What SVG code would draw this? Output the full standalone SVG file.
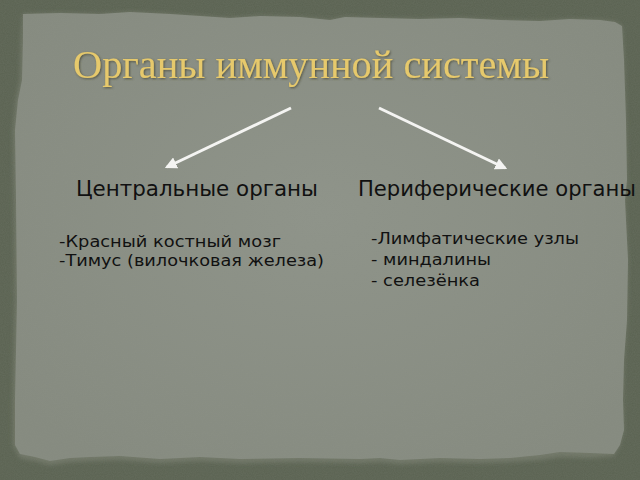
<svg xmlns="http://www.w3.org/2000/svg" width="640" height="480" viewBox="0 0 640 480">
<style>
.hdr{font-family:"DejaVu Sans",sans-serif;font-size:20.5px;fill:#111}
.itm{font-family:"DejaVu Sans",sans-serif;font-size:16.3px;fill:#111}
.ttl{font-family:"Liberation Serif",serif;font-size:40px;fill:#e6c96c}
.arr{stroke:#f4f4f2;stroke-width:3;fill:none;marker-end:url(#ah)}
</style>
<defs>
<marker id="ah" viewBox="0 0 10 10" refX="8" refY="5" markerWidth="4" markerHeight="4" orient="auto" markerUnits="strokeWidth">
<path d="M0,0 L10,5 L0,10 z" fill="#f4f4f2"/>
</marker>
<radialGradient id="pg" cx="50%" cy="45%" r="65%">
<stop offset="0" stop-color="#8e9389"/>
<stop offset="1" stop-color="#858a7f"/>
</radialGradient>
<filter id="noise" x="0" y="0" width="100%" height="100%">
<feTurbulence type="fractalNoise" baseFrequency="0.9" numOctaves="2" seed="3" result="n"/>
<feColorMatrix type="matrix" values="0 0 0 0 0.3  0 0 0 0 0.32  0 0 0 0 0.28  0 0 0 0.18 0" in="n"/>
</filter>
<filter id="edge" x="-5%" y="-5%" width="110%" height="110%">
<feGaussianBlur stdDeviation="2"/>
</filter>
<filter id="sh" x="-5%" y="-20%" width="110%" height="140%">
<feDropShadow dx="1" dy="1" stdDeviation="0.8" flood-color="#3a3a2a" flood-opacity="0.7"/>
</filter>
</defs>
<g id="background">
<rect width="640" height="480" fill="#5a6251"/>
<polygon fill="#6f7666" filter="url(#edge)" points="23,14 60,13 100,14 130,12 170,14 200,16 230,18 260,16 300,17 330,20 345,17 380,18 420,19 460,18 500,20 540,21 570,19 600,20 615,22 622,26 624,60 626,120 627,180 625,200 628,260 627,320 624,360 623,400 624,430 620,445 614,456 590,458 560,457 540,460 510,462 480,463 440,462 400,464 380,462 360,463 300,462 240,463 200,461 160,463 120,460 90,461 70,462 50,465 35,461 20,458 13,445 13,400 15,300 14,200 13,130 16,100 20,80 21,40"/>
<polygon fill="url(#pg)" points="23,14 60,13 100,14 130,12 170,14 200,16 230,18 260,16 300,17 330,20 345,17 380,18 420,19 460,18 500,20 540,21 570,19 600,20 615,22 622,26 624,60 626,120 627,180 625,200 628,260 627,320 624,360 623,400 624,430 620,445 614,454 590,453 560,452 540,455 510,458 480,459 440,458 400,460 380,458 360,459 300,458 240,459 200,457 160,459 120,456 90,457 70,458 50,461 35,457 20,454 15,445 15,400 17,300 16,200 15,130 18,100 22,80 23,40"/>
<rect width="640" height="480" filter="url(#noise)"/>
</g>
<g id="title">
<text class="ttl" x="73" y="78" textLength="476" lengthAdjust="spacingAndGlyphs" filter="url(#sh)">Органы иммунной системы</text>
</g>
<g id="connectors">
<line class="arr" x1="291" y1="108" x2="167" y2="167"/>
<line class="arr" x1="379" y1="108" x2="505" y2="168"/>
</g>
<g id="central">
<text class="hdr" x="76" y="195.5" textLength="242" lengthAdjust="spacingAndGlyphs">Центральные органы</text>
<text class="itm" x="59" y="247" textLength="222" lengthAdjust="spacingAndGlyphs">-Красный костный мозг</text>
<text class="itm" x="59" y="266" textLength="265" lengthAdjust="spacingAndGlyphs">-Тимус (вилочковая железа)</text>
</g>
<g id="peripheral">
<text class="hdr" x="358" y="195.5" textLength="278" lengthAdjust="spacingAndGlyphs">Периферические органы</text>
<text class="itm" x="371" y="244" textLength="208" lengthAdjust="spacingAndGlyphs">-Лимфатические узлы</text>
<text class="itm" x="371" y="265" textLength="120" lengthAdjust="spacingAndGlyphs">- миндалины</text>
<text class="itm" x="371" y="286" textLength="109" lengthAdjust="spacingAndGlyphs">- селезёнка</text>
</g>
</svg>
